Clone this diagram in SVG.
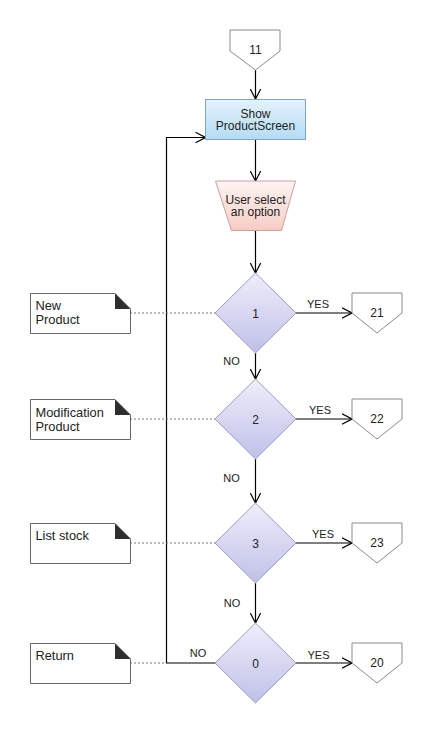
<svg xmlns="http://www.w3.org/2000/svg" width="432" height="733" viewBox="0 0 432 733">
<defs>
<linearGradient id="gBox" x1="0" y1="0" x2="0" y2="1"><stop offset="0" stop-color="#e4f2fc"/><stop offset="1" stop-color="#b3dcf5"/></linearGradient>
<linearGradient id="gTrap" x1="0" y1="0" x2="0" y2="1"><stop offset="0" stop-color="#fdf4f2"/><stop offset="1" stop-color="#f6cdc5"/></linearGradient>
<linearGradient id="gDia" x1="0" y1="0" x2="0" y2="1"><stop offset="0" stop-color="#eeeefb"/><stop offset="1" stop-color="#c0c0e9"/></linearGradient>
<marker id="arr" viewBox="0 0 11 12" refX="10.5" refY="6" markerWidth="11" markerHeight="12" orient="auto" markerUnits="userSpaceOnUse"><path d="M0.5,0.8 L10.5,6 L0.5,11.2" fill="none" stroke="#000" stroke-width="1.2"/></marker>
<style>
text{font-family:"Liberation Sans",Arial,sans-serif;fill:#222}
.c{text-anchor:middle}
.t12{font-size:12px}
.t13{font-size:12.8px}
.t11{font-size:11px}
.box{fill:url(#gBox);stroke:#7ea6c2;stroke-width:1}
.trap{fill:url(#gTrap);stroke:#c9a09a;stroke-width:1}
.dia{fill:url(#gDia);stroke:#9c9cc0;stroke-width:1}
.pent{fill:#fff;stroke:#8a8a8a;stroke-width:1}
.note{fill:#fff;stroke:#666;stroke-width:1}
.fold{fill:#2e2e2e}
.line{fill:none;stroke:#000;stroke-width:1.2}
.arrow{marker-end:url(#arr)}
.dot{fill:none;stroke:#777;stroke-width:1;stroke-dasharray:2,2}
</style>
</defs>
<rect width="432" height="733" fill="#fff"/>

<g id="connectors">
<path class="line arrow" d="M255.5,70 V99"/>
<path class="line arrow" d="M255.5,139 V181"/>
<path class="line arrow" d="M255.5,230 V273"/>
<path class="line arrow" d="M255.5,353 V379"/>
<path class="line arrow" d="M255.5,459 V503"/>
<path class="line arrow" d="M255.5,583 V623"/>
<path class="line arrow" d="M296,313 H352"/>
<path class="line arrow" d="M296,419 H352"/>
<path class="line arrow" d="M296,543 H352"/>
<path class="line arrow" d="M296,663 H352"/>
<path class="line arrow" d="M215.5,663 H166.5 V137.5 H205.5"/>
<path class="dot" d="M130,313 H215"/>
<path class="dot" d="M130,419 H215"/>
<path class="dot" d="M130,543 H215"/>
<path class="dot" d="M130,663 H166"/>
<text class="t11 c" x="318" y="308">YES</text>
<text class="t11 c" x="320" y="413.5">YES</text>
<text class="t11 c" x="323" y="537.5">YES</text>
<text class="t11 c" x="318.5" y="658.5">YES</text>
<text class="t11 c" x="231.5" y="365">NO</text>
<text class="t11 c" x="231.5" y="482">NO</text>
<text class="t11 c" x="232" y="606.5">NO</text>
<text class="t11 c" x="198" y="656.5">NO</text>
</g>

<g id="off11">
<path class="pent" d="M230,30 H280 V51 L255.5,70 L230,51 Z"/>
<text class="t12 c" x="255.5" y="54">11</text>
</g>

<g id="showProductScreen">
<rect class="box" x="205.5" y="99.5" width="100" height="40"/>
<text class="t12 c" x="255.5" y="117.5">Show</text>
<text class="t12 c" x="255.5" y="130">ProductScreen</text>
</g>

<g id="userSelect">
<path class="trap" d="M215.5,181 H295.5 L281.5,230.5 H231.5 Z"/>
<text class="t12 c" x="255.5" y="203.5">User select</text>
<text class="t12 c" x="255.5" y="216">an option</text>
</g>

<g id="d1">
<path class="dia" d="M255.5,273 L296,313 L255.5,353 L215,313 Z"/>
<text class="t12 c" x="255.5" y="317.5">1</text>
</g>
<g id="d2">
<path class="dia" d="M255.5,379 L296,419 L255.5,459 L215,419 Z"/>
<text class="t12 c" x="255.5" y="423.5">2</text>
</g>
<g id="d3">
<path class="dia" d="M255.5,503 L296,543 L255.5,583 L215,543 Z"/>
<text class="t12 c" x="255.5" y="547.5">3</text>
</g>
<g id="d0">
<path class="dia" d="M255.5,623 L296,663 L255.5,703 L215,663 Z"/>
<text class="t12 c" x="255.5" y="667.5">0</text>
</g>

<g id="off21">
<path class="pent" d="M352,293 H402 V313 L377,333 L352,313 Z"/>
<text class="t12 c" x="377" y="317">21</text>
</g>
<g id="off22">
<path class="pent" d="M352,399 H402 V419 L377,439 L352,419 Z"/>
<text class="t12 c" x="377" y="423">22</text>
</g>
<g id="off23">
<path class="pent" d="M352,523 H402 V543 L377,563 L352,543 Z"/>
<text class="t12 c" x="377" y="547">23</text>
</g>
<g id="off20">
<path class="pent" d="M352,643 H402 V663 L377,683 L352,663 Z"/>
<text class="t12 c" x="377" y="667">20</text>
</g>

<g id="noteNewProduct">
<path class="note" d="M30.5,293.5 H115 L130.5,309 V333.5 H30.5 Z"/>
<path class="fold" d="M115,293.5 L130.5,309 H115 Z"/>
<text class="t13" x="35.5" y="310">New</text>
<text class="t13" x="35.5" y="324">Product</text>
</g>
<g id="noteModification">
<path class="note" d="M30.5,399.5 H115 L130.5,415 V439.5 H30.5 Z"/>
<path class="fold" d="M115,399.5 L130.5,415 H115 Z"/>
<text class="t13" x="35.5" y="416.5">Modification</text>
<text class="t13" x="35.5" y="430.5">Product</text>
</g>
<g id="noteListStock">
<path class="note" d="M30.5,523.5 H115 L130.5,539 V563.5 H30.5 Z"/>
<path class="fold" d="M115,523.5 L130.5,539 H115 Z"/>
<text class="t13" x="35.5" y="540">List stock</text>
</g>
<g id="noteReturn">
<path class="note" d="M30.5,643.5 H115 L130.5,659 V683.5 H30.5 Z"/>
<path class="fold" d="M115,643.5 L130.5,659 H115 Z"/>
<text class="t13" x="35.5" y="660">Return</text>
</g>
</svg>
